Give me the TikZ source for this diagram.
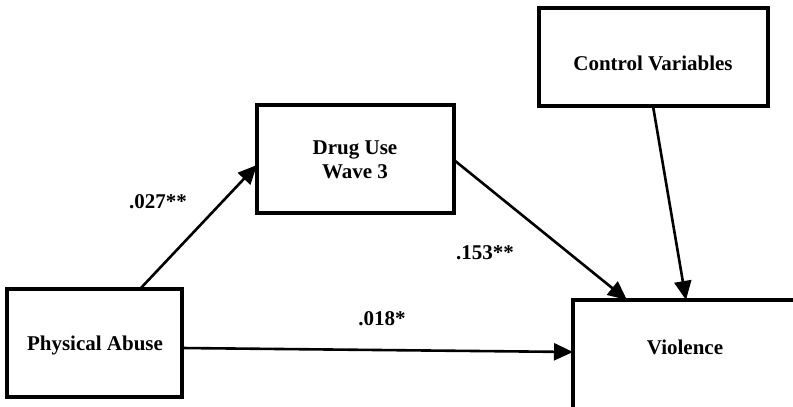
\documentclass[tikz,border=0pt]{standalone}
\usepackage{fontspec}
\setmainfont{Liberation Serif}
\usetikzlibrary{arrows.meta}
\begin{document}
\begin{tikzpicture}[x=1pt,y=-1pt,
  boxst/.style={draw,line width=3.5pt},
  lbl/.style={font=\fontsize{21}{24}\selectfont\bfseries,align=center,inner sep=0pt},
  arr/.style={line width=2.6pt,-{Triangle[length=19pt,width=17pt]}}]
\useasboundingbox (0,0) rectangle (793,407);
\begin{scope}
\clip (0,0) rectangle (793,407);
\draw[boxst] (7,289) rectangle (182,397);
\draw[boxst] (257,105) rectangle (454,213);
\draw[boxst] (539,8) rectangle (768,106);
\draw[boxst] (573,300) rectangle (800,420);
\end{scope}
\coordinate (pa) at (94.5,343);
\coordinate (du) at (355.5,159);
\coordinate (cv) at (653.5,57);
\node[lbl] (paT) at (95,345) {Physical Abuse};
\node[lbl] (duT) at (355,160) {Drug Use\\Wave 3};
\node[lbl] (cvT) at (653,63) {Control Variables};
\node[lbl] (viT) at (685,347) {Violence};
\coordinate (paTop) at (140,289);
\coordinate (duLeft) at (257,165);
\coordinate (duRight) at (454,160);
\coordinate (viTop1) at (627,300);
\coordinate (cvBot) at (653,106);
\coordinate (viTop2) at (686,300);
\coordinate (paRight) at (182,348);
\coordinate (viLeft) at (573,352);
\draw[arr] (paTop) -- (duLeft);
\draw[arr] (duRight) -- (viTop1);
\draw[arr] (cvBot) -- (viTop2);
\draw[arr] (paRight) -- (viLeft);
\node[lbl] (l1) at (158,202) {.027**};
\node[lbl] (l2) at (485,253) {.153**};
\node[lbl] (l3) at (382,319) {.018*};
\end{tikzpicture}
\end{document}
